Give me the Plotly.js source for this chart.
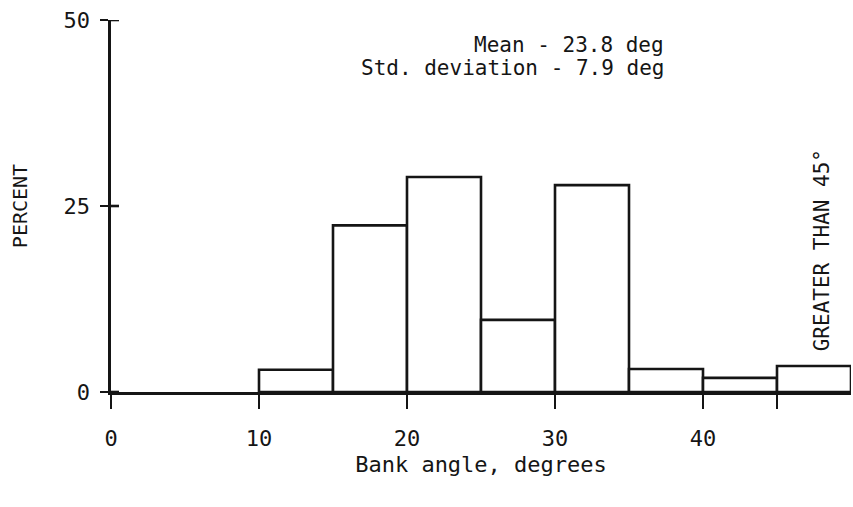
<!DOCTYPE html>
<html>
<head>
<meta charset="utf-8">
<script src="https://cdn.plot.ly/plotly-3.0.1.min.js"></script>
<style>html,body{margin:0;padding:0;background:#fff;}#chart{width:853px;height:507px;}</style>
</head>
<body>
<div id="chart"></div>
<script>
// Bin starts (degrees) and percent of occurrences
const binStart = [10, 15, 20, 25, 30, 35, 40, 45];
const binWidth = [5, 5, 5, 5, 5, 5, 5, 5];
const percent  = [3.0, 22.4, 28.9, 9.7, 27.8, 3.1, 1.9, 3.5];

const xTickVals = [0, 10, 20, 30, 40, 45];
const xTickText = ["0", "10", "20", "30", "40", ""];
const yTickVals = [0, 25, 50];
const yTickText = ["0", "25", "50"];

const statLines = ["Mean - 23.8 deg", "Std. deviation - 7.9 deg"];
const sideNote = "GREATER THAN 45°";

const FONT = "DejaVu Sans Mono, Liberation Mono, monospace";
const INK = "#151515";
const PLOT_W = 853 - 111 - 2;

const trace = {
  type: "bar",
  x: binStart,
  y: percent,
  width: binWidth,
  offset: 0,
  marker: { color: "#ffffff", line: { color: INK, width: 2.6 } },
  hoverinfo: "x+y",
  cliponaxis: false,
  showlegend: false
};

// inner half of the crossing y-axis tick marks (the outer half is the axis's own ticks)
const innerTicks = yTickVals.map(v => ({
  type: "line", xref: "paper", yref: "y",
  x0: 0, x1: 8 / PLOT_W, y0: v, y1: v,
  line: { color: INK, width: 2.6 }, layer: "above"
}));

const layout = {
  width: 853, height: 507,
  margin: { l: 111, r: 2, t: 20, b: 115 },
  paper_bgcolor: "#ffffff", plot_bgcolor: "#ffffff",
  font: { family: FONT, color: INK, size: 21 },
  showlegend: false,
  bargap: 0,
  xaxis: {
    range: [0, 50], showgrid: false, zeroline: false,
    showline: true, linecolor: INK, linewidth: 2.6,
    ticks: "outside", ticklen: 14, tickwidth: 2.6, tickcolor: INK,
    tickmode: "array", tickvals: xTickVals, ticktext: xTickText,
    tickfont: { family: FONT, size: 22, color: INK },
    ticklabelstandoff: 11,
    title: { text: "Bank angle, degrees", font: { family: FONT, size: 22, color: INK }, standoff: 7 }
  },
  yaxis: {
    range: [0, 50], showgrid: false, zeroline: false,
    showline: true, linecolor: INK, linewidth: 2.6,
    ticks: "outside", ticklen: 8, tickwidth: 2.6, tickcolor: INK,
    tickmode: "array", tickvals: yTickVals, ticktext: yTickText,
    tickfont: { family: FONT, size: 22, color: INK },
    ticklabelstandoff: 6,
    title: { text: "PERCENT", font: { family: FONT, size: 20, color: INK }, standoff: 31 }
  },
  shapes: innerTicks,
  annotations: [
    { text: statLines[0], xref: "x", yref: "y", x: 37.5, y: 46.6, xanchor: "right", yanchor: "middle", showarrow: false, font: { family: FONT, size: 21, color: INK } },
    { text: statLines[1], xref: "x", yref: "y", x: 37.5, y: 43.5, xanchor: "right", yanchor: "middle", showarrow: false, font: { family: FONT, size: 21, color: INK } },
    { text: sideNote, xref: "x", yref: "y", x: 48.0, y: 19.1, xanchor: "center", yanchor: "middle", textangle: -90, showarrow: false, font: { family: FONT, size: 21, color: INK } }
  ]
};

Plotly.newPlot("chart", [trace], layout, { displayModeBar: false, staticPlot: true });
</script>
</body>
</html>
